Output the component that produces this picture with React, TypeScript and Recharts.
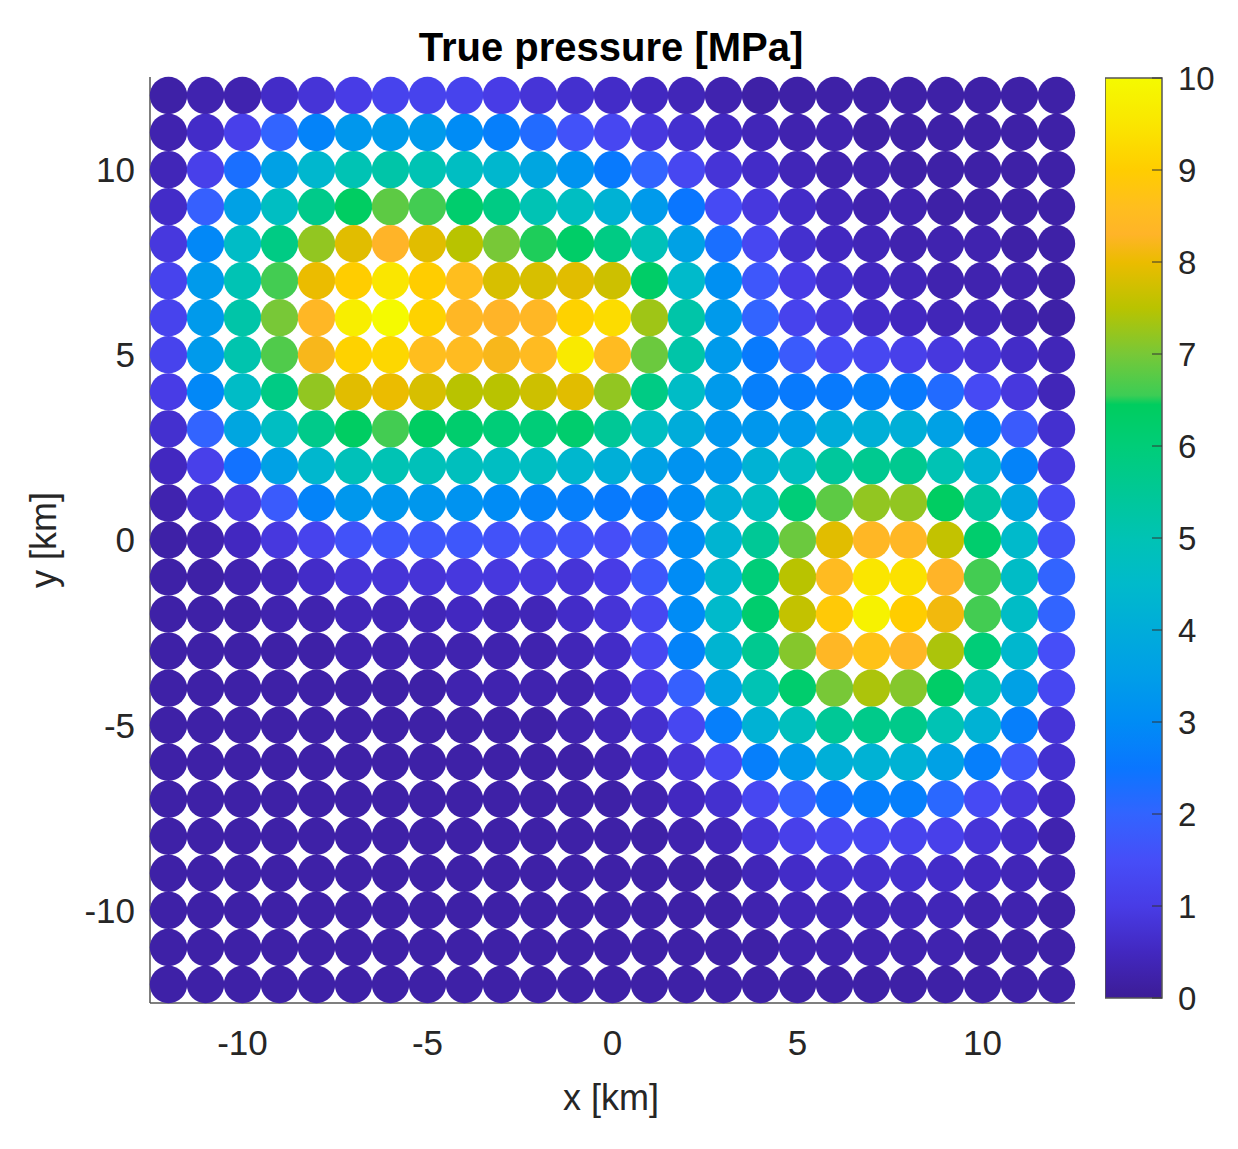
import React from 'react';
import { ScatterChart, Scatter, XAxis, YAxis, BarChart, Bar } from 'recharts';

// grid of sensors, km
const xs = [-12, -11, -10, -9, -8, -7, -6, -5, -4, -3, -2, -1, 0, 1, 2, 3, 4, 5, 6, 7, 8, 9, 10, 11, 12];
const ys = [12, 11, 10, 9, 8, 7, 6, 5, 4, 3, 2, 1, 0, -1, -2, -3, -4, -5, -6, -7, -8, -9, -10, -11, -12];

// true pressure [MPa], one row per y (top to bottom), columns follow xs
const pressure = [
  [0.2, 0.3, 0.3, 0.6, 0.8, 1.0, 1.2, 1.2, 1.2, 1.0, 0.8, 0.7, 0.6, 0.5, 0.4, 0.3, 0.2, 0.2, 0.2, 0.2, 0.2, 0.2, 0.2, 0.2, 0.2],
  [0.3, 0.6, 1.1, 2.0, 2.8, 3.3, 3.4, 3.4, 3.0, 2.7, 2.2, 1.6, 1.3, 0.9, 0.7, 0.5, 0.4, 0.3, 0.3, 0.2, 0.2, 0.2, 0.2, 0.2, 0.2],
  [0.4, 1.1, 2.3, 3.6, 4.4, 5.0, 5.2, 5.0, 4.7, 4.4, 3.8, 3.2, 2.6, 2.0, 1.3, 0.8, 0.6, 0.4, 0.3, 0.3, 0.2, 0.2, 0.2, 0.2, 0.2],
  [0.6, 1.9, 3.6, 4.7, 5.7, 6.4, 6.8, 6.6, 6.2, 5.8, 5.0, 4.7, 4.2, 3.4, 2.5, 1.4, 0.9, 0.6, 0.4, 0.3, 0.3, 0.2, 0.2, 0.2, 0.2],
  [0.9, 2.9, 4.6, 5.8, 7.2, 7.9, 8.3, 7.9, 7.5, 7.0, 6.5, 6.3, 5.8, 4.9, 3.6, 2.3, 1.3, 0.7, 0.5, 0.4, 0.3, 0.3, 0.3, 0.2, 0.2],
  [1.2, 3.4, 5.0, 6.6, 8.0, 9.0, 9.5, 9.0, 8.6, 7.8, 7.8, 7.9, 7.7, 6.3, 4.5, 3.1, 1.7, 1.0, 0.7, 0.5, 0.4, 0.3, 0.3, 0.3, 0.2],
  [1.2, 3.4, 5.2, 7.0, 8.4, 9.7, 10.0, 9.1, 8.4, 8.3, 8.4, 9.1, 9.3, 7.3, 5.2, 3.4, 2.0, 1.2, 0.9, 0.6, 0.5, 0.4, 0.4, 0.3, 0.2],
  [1.2, 3.4, 5.1, 6.7, 8.2, 9.1, 9.2, 8.6, 8.5, 8.2, 8.5, 9.6, 8.5, 6.9, 5.2, 3.4, 2.6, 1.8, 1.4, 1.3, 1.1, 0.9, 0.8, 0.6, 0.4],
  [1.0, 2.9, 4.6, 5.8, 7.2, 7.9, 8.0, 7.8, 7.5, 7.5, 7.7, 7.9, 7.2, 5.8, 4.6, 3.4, 2.7, 2.6, 2.6, 2.7, 2.6, 2.2, 1.4, 0.9, 0.4],
  [0.7, 2.0, 3.8, 4.7, 5.7, 6.4, 6.6, 6.4, 6.2, 6.0, 6.0, 6.2, 5.5, 4.7, 4.0, 3.3, 3.3, 3.4, 4.0, 4.1, 4.1, 3.6, 2.8, 1.8, 0.7],
  [0.5, 1.1, 2.4, 3.6, 4.4, 4.9, 5.0, 4.9, 4.8, 4.7, 4.7, 4.4, 4.1, 3.6, 3.2, 3.3, 4.2, 4.7, 5.4, 5.6, 5.6, 5.0, 4.2, 2.8, 0.9],
  [0.3, 0.6, 0.9, 1.8, 2.8, 3.3, 3.3, 3.3, 3.2, 3.0, 2.8, 2.7, 2.6, 2.6, 3.0, 4.1, 4.7, 6.0, 6.8, 7.2, 7.2, 6.4, 5.3, 3.8, 1.4],
  [0.2, 0.3, 0.5, 0.9, 1.2, 1.6, 1.7, 1.7, 1.7, 1.6, 1.6, 1.6, 1.5, 2.0, 3.0, 4.3, 5.5, 6.9, 7.9, 8.4, 8.4, 7.6, 6.2, 4.5, 1.6],
  [0.2, 0.2, 0.3, 0.4, 0.6, 0.8, 0.8, 0.8, 0.9, 0.9, 0.9, 0.8, 1.0, 1.7, 3.0, 4.4, 6.0, 7.5, 8.5, 9.5, 9.4, 8.3, 6.6, 4.6, 2.0],
  [0.2, 0.2, 0.2, 0.3, 0.3, 0.4, 0.4, 0.4, 0.5, 0.4, 0.4, 0.6, 0.8, 1.3, 3.0, 4.5, 6.2, 7.6, 8.9, 9.8, 9.0, 8.1, 6.6, 4.6, 2.0],
  [0.2, 0.2, 0.2, 0.2, 0.2, 0.3, 0.3, 0.3, 0.3, 0.3, 0.3, 0.4, 0.6, 1.3, 2.8, 4.3, 5.6, 7.1, 8.4, 8.7, 8.4, 7.4, 6.0, 4.4, 1.5],
  [0.2, 0.2, 0.2, 0.2, 0.2, 0.2, 0.2, 0.2, 0.3, 0.3, 0.3, 0.3, 0.5, 1.0, 1.9, 3.7, 5.0, 6.2, 7.0, 7.4, 7.1, 6.3, 5.0, 3.6, 1.3],
  [0.2, 0.2, 0.2, 0.2, 0.2, 0.2, 0.2, 0.2, 0.2, 0.2, 0.2, 0.3, 0.4, 0.7, 1.3, 2.7, 4.2, 4.8, 5.5, 5.7, 5.7, 5.0, 4.2, 2.7, 0.8],
  [0.2, 0.2, 0.2, 0.2, 0.2, 0.2, 0.2, 0.2, 0.2, 0.2, 0.2, 0.2, 0.3, 0.5, 0.8, 1.3, 2.7, 3.4, 4.1, 4.2, 4.2, 3.6, 2.7, 1.7, 0.7],
  [0.2, 0.2, 0.2, 0.2, 0.2, 0.2, 0.2, 0.2, 0.2, 0.2, 0.2, 0.2, 0.2, 0.3, 0.5, 0.7, 1.3, 1.9, 2.4, 2.7, 2.7, 2.1, 1.4, 0.9, 0.5],
  [0.2, 0.2, 0.2, 0.2, 0.2, 0.2, 0.2, 0.2, 0.2, 0.2, 0.2, 0.2, 0.2, 0.2, 0.3, 0.4, 0.8, 1.1, 1.3, 1.3, 1.2, 1.1, 0.8, 0.6, 0.3],
  [0.2, 0.2, 0.2, 0.2, 0.2, 0.2, 0.2, 0.2, 0.2, 0.2, 0.2, 0.2, 0.2, 0.2, 0.2, 0.2, 0.4, 0.6, 0.7, 0.7, 0.7, 0.6, 0.5, 0.4, 0.3],
  [0.2, 0.2, 0.2, 0.2, 0.2, 0.2, 0.2, 0.2, 0.2, 0.2, 0.2, 0.2, 0.2, 0.2, 0.2, 0.2, 0.3, 0.4, 0.4, 0.4, 0.4, 0.4, 0.3, 0.3, 0.2],
  [0.2, 0.2, 0.2, 0.2, 0.2, 0.2, 0.2, 0.2, 0.2, 0.2, 0.2, 0.2, 0.2, 0.2, 0.2, 0.2, 0.2, 0.3, 0.3, 0.3, 0.3, 0.3, 0.2, 0.2, 0.2],
  [0.2, 0.2, 0.2, 0.2, 0.2, 0.2, 0.2, 0.2, 0.2, 0.2, 0.2, 0.2, 0.2, 0.2, 0.2, 0.2, 0.2, 0.2, 0.2, 0.2, 0.2, 0.2, 0.2, 0.2, 0.2],
];

const xTicks = [-10, -5, 0, 5, 10];
const yTicks = [-10, -5, 0, 5, 10];
const cbTicks = [0, 1, 2, 3, 4, 5, 6, 7, 8, 9, 10];
const cbMax = 10;

// colormap (value -> rgb)
const stops: [number, number[]][] = [
  [0, [60, 28, 150]],
  [0.5, [66, 40, 192]],
  [1, [72, 60, 230]],
  [1.5, [70, 78, 248]],
  [2, [50, 100, 255]],
  [2.5, [10, 118, 255]],
  [3, [0, 140, 245]],
  [3.5, [0, 158, 232]],
  [4, [0, 172, 218]],
  [4.5, [0, 186, 203]],
  [5, [0, 195, 180]],
  [5.5, [0, 200, 150]],
  [6, [0, 205, 120]],
  [6.45, [0, 205, 95]],
  [6.55, [60, 205, 85]],
  [7, [120, 200, 55]],
  [7.5, [185, 195, 0]],
  [8, [235, 188, 0]],
  [8.3, [255, 180, 40]],
  [8.6, [255, 190, 30]],
  [9, [255, 205, 0]],
  [9.5, [250, 230, 0]],
  [10, [245, 250, 0]],
];

const toColor = (v: number) => {
  if (v <= stops[0][0]) return `rgb(${stops[0][1].join(',')})`;
  for (let i = 1; i < stops.length; i++) {
    const [v1, c1] = stops[i];
    if (v <= v1) {
      const [v0, c0] = stops[i - 1];
      const t = (v - v0) / (v1 - v0);
      const c = c0.map((a, k) => Math.round(a + (c1[k] - a) * t));
      return `rgb(${c.join(',')})`;
    }
  }
  return `rgb(${stops[stops.length - 1][1].join(',')})`;
};

const points = ys.flatMap((y, i) => xs.map((x, j) => ({ x, y, p: pressure[i][j] })));

const font = '"Liberation Sans", Arial, Helvetica, sans-serif';
const tickStyle = { fontSize: 35, fill: '#262626', fontFamily: font };

const Dot = (props: any) => {
  const { cx, cy, payload } = props;
  return <circle cx={cx} cy={cy} r={18.7} fill={toColor(payload.p)} />;
};

export default function App() {
  return (
    <div style={{ position: 'absolute', left: 0, top: 0, width: 1238, height: 1149, background: '#fff' }}>
      <div
        style={{
          position: 'absolute', left: 0, width: 1222, top: 24, textAlign: 'center',
          fontFamily: font, fontWeight: 'bold', fontSize: 40, color: '#000', lineHeight: '46px',
        }}
      >
        True pressure [MPa]
      </div>

      <div style={{ position: 'absolute', left: 0, top: 0 }}>
        <ScatterChart width={1238} height={1149} margin={{ top: 77, right: 163, bottom: 86, left: 0 }}>
          <XAxis
            type="number"
            dataKey="x"
            domain={[-12.5, 12.5]}
            ticks={xTicks}
            interval={0}
            height={60}
            tickLine={false}
            tickSize={0}
            tickMargin={27}
            tick={tickStyle}
            axisLine={{ stroke: '#555', strokeWidth: 1.5 }}
            label={{
              content: () => (
                <text x={611} y={1110} textAnchor="middle" fontSize={36} fill="#262626" fontFamily={font}>
                  x [km]
                </text>
              ),
            }}
          />
          <YAxis
            type="number"
            dataKey="y"
            domain={[-12.5, 12.5]}
            ticks={yTicks}
            interval={0}
            width={150}
            tickLine={false}
            tickSize={0}
            tickMargin={15}
            tick={tickStyle}
            axisLine={{ stroke: '#555', strokeWidth: 1.5 }}
            label={{
              content: () => (
                <text
                  x={0}
                  y={0}
                  transform="translate(56 540) rotate(-90)"
                  textAnchor="middle"
                  fontSize={36}
                  fill="#262626"
                  fontFamily={font}
                >
                  y [km]
                </text>
              ),
            }}
          />
          <Scatter data={points} shape={Dot} isAnimationActive={false} />
        </ScatterChart>
      </div>

      <div style={{ position: 'absolute', left: 1105, top: 48 }}>
        <BarChart
          width={130}
          height={980}
          data={[{ name: 'cb', v: cbMax }]}
          margin={{ top: 30, right: 0, bottom: 30, left: 0 }}
          barCategoryGap={0}
        >
          <defs>
            <linearGradient id="cbGrad" x1="0" y1="0" x2="0" y2="1">
              {stops
                .slice()
                .reverse()
                .map(([v, c]) => (
                  <stop key={v} offset={`${(1 - v / cbMax) * 100}%`} stopColor={`rgb(${c.join(',')})`} />
                ))}
            </linearGradient>
          </defs>
          <XAxis dataKey="name" hide />
          <YAxis
            orientation="right"
            domain={[0, cbMax]}
            ticks={cbTicks}
            interval={0}
            width={73}
            axisLine={false}
            tickLine={{ stroke: '#333' }}
            tickSize={-10}
            tickMargin={26}
            tick={{ fontSize: 33, fill: '#262626', fontFamily: font, textAnchor: 'start' }}
          />
          <Bar dataKey="v" fill="url(#cbGrad)" stroke="#555" strokeWidth={1.5} isAnimationActive={false} />
        </BarChart>
      </div>
    </div>
  );
}
